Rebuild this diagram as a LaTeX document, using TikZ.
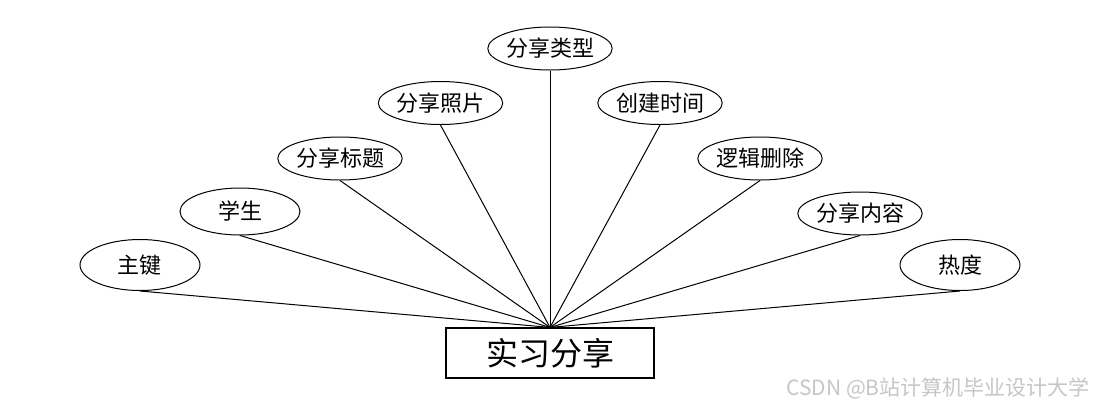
\documentclass[tikz,border=0pt]{standalone}
\usepackage{fontspec}
\setmainfont{Noto Sans CJK SC}
\usetikzlibrary{shapes.geometric,positioning}

\begin{document}
\begin{tikzpicture}[
  x=0.5pt, y=-0.5pt,
  every node/.style={font=\fontsize{11}{13}\selectfont},
  attr/.style={ellipse, draw, line width=0.5pt, minimum width=60pt, minimum height=21.5pt, inner sep=0pt},
  attrshort/.style={attr, minimum height=25.5pt},
  link/.style={draw, line width=0.5pt}
]
\useasboundingbox (0,0) rectangle (1100,408);

% entity (实习分享)
\node[rectangle, draw, line width=0.6pt, minimum width=104pt, minimum height=25pt, inner sep=0pt,
      font=\fontsize{16}{19}\selectfont] (share) at (550,353) {实习分享};

% attributes, left half
\node[attrshort] (zhujian) at (140,265) {主键};
\node[attrshort, minimum height=23.5pt] (xuesheng) at (240,211.5) {学生};
\node[attr] (biaoti) at (340,158.5) {分享标题};
\node[attr] (zhaopian) at (440.5,103) {分享照片};
\node[attr] (leixing) at (550,48.5) {分享类型};

% attributes, right half
\node[attr] (shijian) at (660,103) {创建时间};
\node[attr] (shanchu) at (760,158.5) {逻辑删除};
\node[attr] (neirong) at (860,213.5) {分享内容};
\node[attrshort] (redu) at (960,265) {热度};

% links to the entity
\foreach \a in {zhujian,xuesheng,biaoti,zhaopian,leixing,shijian,shanchu,neirong,redu}
  \path[link] (\a.south) -- (share.north);

% watermark
\node[font=\fontsize{10.5}{12}\selectfont, color=gray!45] (mark) at (938,388) {CSDN @B站计算机毕业设计大学};
\end{tikzpicture}
\end{document}
